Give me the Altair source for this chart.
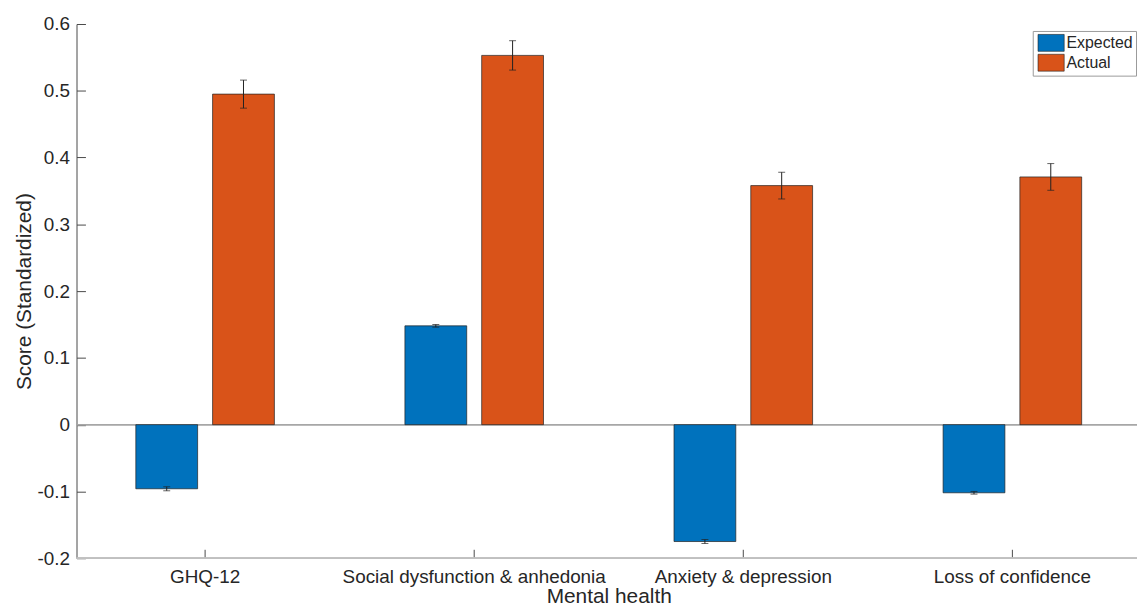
import altair as alt
import pandas as pd

categories = ["GHQ-12", "Social dysfunction & anhedonia", "Anxiety & depression", "Loss of confidence"]
groups = ["Expected", "Actual"]
expected = [-0.096, 0.148, -0.175, -0.102]
expected_err = [0.003, 0.002, 0.003, 0.002]
actual = [0.495, 0.553, 0.358, 0.371]
actual_err = [0.021, 0.022, 0.020, 0.020]
y_ticks = [-0.2, -0.1, 0, 0.1, 0.2, 0.3, 0.4, 0.5, 0.6]
colors = ["#0072BD", "#D95319"]

rows = []
for c, e, ee, a, ae in zip(categories, expected, expected_err, actual, actual_err):
    rows.append({"category": c, "group": "Expected", "value": e, "lo": e - ee, "hi": e + ee})
    rows.append({"category": c, "group": "Actual", "value": a, "lo": a - ae, "hi": a + ae})
df = pd.DataFrame(rows)

FONT = "Liberation Sans"
W, H = 1068, 538

xscale = alt.Scale(domain=categories, range=[-6, 1078], paddingInner=0, paddingOuter=0)
yscale = alt.Scale(domain=[-0.2, 0.6], nice=False, zero=False)
offscale = alt.Scale(domain=groups, paddingInner=0.195, paddingOuter=0.85)

main_x_axis = alt.Axis(title="Mental health", labelAngle=0, domain=False, ticks=False,
                       labelPadding=9, titlePadding=0, labelFontSize=19, titleFontSize=21,
                       labelLimit=0, labelColor="#262626", titleColor="#262626", grid=False)
main_y_axis = alt.Axis(title="Score (Standardized)", values=y_ticks, ticks=False,
                       labelExpr="'' + datum.value", labelPadding=7, titlePadding=3,
                       labelFontSize=19, titleFontSize=21, labelColor="#262626",
                       titleColor="#262626", domain=True, domainColor="#4a4a4a",
                       domainWidth=1, grid=False)

bars = alt.Chart(df).mark_bar(stroke="#222222", strokeWidth=0.7).encode(
    x=alt.X("category:N", sort=categories, scale=xscale, axis=main_x_axis),
    xOffset=alt.XOffset("group:N", sort=groups, scale=offscale),
    y=alt.Y("value:Q", scale=yscale, axis=main_y_axis),
    color=alt.Color("group:N", sort=groups,
                    scale=alt.Scale(domain=groups, range=colors),
                    legend=alt.Legend(title=None, orient="none", legendX=963, legendY=7,
                                      symbolType="M-1.55,-1L1.55,-1L1.55,1L-1.55,1Z",
                                      symbolSize=289, symbolOffset=6.5,
                                      symbolStrokeColor="#222222",
                                      symbolStrokeWidth=0.6, labelFontSize=16,
                                      labelColor="#262626", labelOffset=6.5,
                                      rowPadding=0, padding=3, strokeColor="#9a9a9a",
                                      fillColor="white", labelFont=FONT)),
)

err_rule = alt.Chart(df).mark_rule(color="#222222", strokeWidth=1).encode(
    x=alt.X("category:N", sort=categories, scale=xscale, axis=None),
    xOffset=alt.XOffset("group:N", sort=groups, scale=offscale),
    y=alt.Y("lo:Q", scale=yscale, axis=None),
    y2="hi:Q",
)
err_lo = alt.Chart(df).mark_tick(color="#222222", thickness=1, size=7).encode(
    x=alt.X("category:N", sort=categories, scale=xscale, axis=None),
    xOffset=alt.XOffset("group:N", sort=groups, scale=offscale),
    y=alt.Y("lo:Q", scale=yscale, axis=None),
)
err_hi = alt.Chart(df).mark_tick(color="#222222", thickness=1, size=7).encode(
    x=alt.X("category:N", sort=categories, scale=xscale, axis=None),
    xOffset=alt.XOffset("group:N", sort=groups, scale=offscale),
    y=alt.Y("hi:Q", scale=yscale, axis=None),
)

zero_line = alt.Chart(df).mark_rule(color="#a6a6a6", strokeWidth=1).encode(
    y=alt.datum(0, scale=yscale, axis=None)
)
bottom_line = alt.Chart(df).mark_rule(color="#c0c0c0", strokeWidth=1).encode(
    y=alt.datum(-0.2, scale=yscale, axis=None)
)

tick_layer = alt.Chart(df).mark_point(opacity=0).encode(
    x=alt.X("category:N", sort=categories, scale=xscale,
            axis=alt.Axis(orient="bottom", offset=-9, tickSize=9, labels=False, domain=False,
                          title=None, tickColor="#4a4a4a", grid=False)),
    y=alt.Y("value:Q", scale=yscale,
            axis=alt.Axis(orient="left", offset=-9, tickSize=9, labels=False, domain=False,
                          title=None, values=y_ticks, tickColor="#4a4a4a", grid=False)),
)

chart = alt.layer(zero_line, bottom_line, bars, err_rule, err_lo, err_hi, tick_layer).resolve_axis(
    x="independent", y="independent"
).properties(
    width=W, height=H, autosize=alt.AutoSizeParams(type="none"),
    padding={"left": 69, "top": 14, "right": 0, "bottom": 47},
).configure(font=FONT).configure_view(stroke=None).configure_axis(labelFont=FONT, titleFont=FONT, titleFontWeight="normal")

chart.save("out.html", embed_options={"renderer": "svg", "actions": False})
